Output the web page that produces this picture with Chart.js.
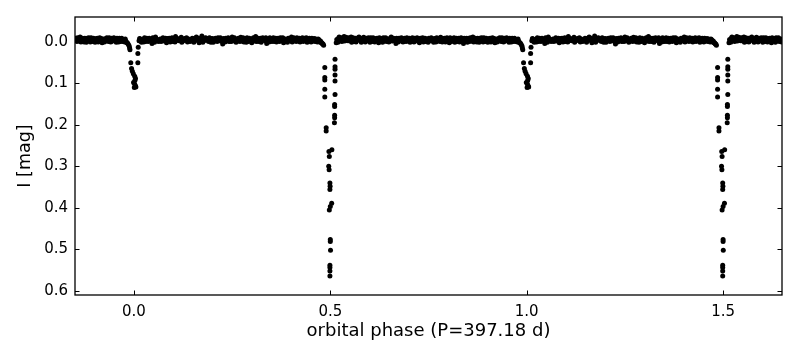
<!DOCTYPE html>
<html>
<head>
<meta charset="utf-8">
<script src="https://cdn.jsdelivr.net/npm/chart.js@4/dist/chart.umd.min.js"></script>
<style>
  html, body { margin: 0; padding: 0; background: #fff; }
  #wrap { width: 800px; height: 360px; }
</style>
</head>
<body>
<div id="wrap"><canvas id="lightCurve"></canvas></div>
<script>
// phase-folded I-band light curve, [phase, mag], phase in [0, 1)
const baselineFirstHalf = [
  [0.013,-0.003],[0.016,-0.007],[0.019,0.001],[0.023,-0.006],[0.027,-0.010],[0.030,-0.001],[0.034,-0.004],[0.039,-0.009],[0.043,-0.003],[0.046,0.004],
  [0.050,-0.006],[0.055,-0.012],[0.058,-0.004],[0.062,-0.001],[0.067,-0.007],[0.071,-0.003],[0.074,-0.010],[0.078,-0.006],[0.083,0.002],[0.087,-0.004],
  [0.090,-0.009],[0.095,-0.006],[0.099,-0.001],[0.102,-0.007],[0.106,-0.013],[0.111,-0.004],[0.115,-0.003],[0.118,-0.009],[0.122,0.001],[0.127,-0.006],
  [0.131,-0.004],[0.134,-0.010],[0.139,-0.007],[0.143,-0.001],[0.146,-0.006],[0.150,-0.003],[0.155,-0.009],[0.159,-0.012],[0.162,-0.004],[0.166,0.002],
  [0.171,-0.006],[0.173,-0.014],[0.178,-0.003],[0.182,-0.010],[0.186,-0.004],[0.190,-0.001],[0.194,-0.009],[0.198,-0.006],[0.202,0.001],[0.206,-0.007],
  [0.210,-0.004],[0.214,-0.010],[0.218,-0.003],[0.222,-0.006],[0.226,0.005],[0.230,-0.004],[0.234,-0.009],[0.238,-0.006],[0.242,-0.001],[0.246,-0.007],
  [0.250,-0.012],[0.254,-0.003],[0.258,-0.006],[0.262,-0.004],[0.266,-0.009],[0.270,-0.001],[0.274,-0.007],[0.278,-0.010],[0.282,-0.004],[0.286,0.001],
  [0.290,-0.006],[0.294,-0.009],[0.298,-0.003],[0.302,-0.007],[0.306,-0.004],[0.310,-0.013],[0.314,-0.006],[0.318,-0.001],[0.322,-0.009],[0.326,-0.004],
  [0.330,-0.007],[0.334,-0.003],[0.338,0.004],[0.342,-0.006],[0.346,-0.010],[0.349,-0.004],[0.353,-0.007],[0.357,-0.001],[0.361,-0.009],[0.365,-0.006],
  [0.369,-0.003],[0.373,-0.010],[0.377,-0.004],[0.381,0.002],[0.385,-0.007],[0.389,-0.006],[0.393,-0.009],[0.397,-0.003],[0.401,-0.012],[0.405,-0.004],
  [0.409,-0.007],[0.413,-0.001],[0.417,-0.006],[0.421,-0.009],[0.425,-0.003],[0.429,-0.010],[0.433,-0.004],[0.437,-0.006],[0.441,0.001],[0.445,-0.007],
  [0.449,-0.004],[0.453,-0.009],[0.457,-0.006],[0.461,-0.001],[0.465,-0.004],[0.469,-0.007],[0.473,0.000],[0.477,0.002],[0.480,0.005],[0.483,0.008]
];

// second observing season, same phases interleaved
const baselineFirstHalfB = [
  [0.0145,-0.008],[0.0215,-0.004],[0.025,0.000],[0.0325,-0.009],[0.0365,-0.001],[0.041,-0.006],[0.048,-0.010],[0.0525,0.001],[0.0565,-0.008],[0.0645,-0.005],
  [0.069,-0.001],[0.0765,-0.002],[0.0805,-0.009],[0.085,-0.008],[0.0925,0.000],[0.097,-0.010],[0.1005,-0.005],[0.1045,0.000],[0.109,-0.009],[0.113,-0.006],
  [0.1205,-0.011],[0.1245,-0.002],[0.129,-0.008],[0.1365,0.000],[0.141,-0.003],[0.1485,-0.009],[0.1525,0.001],[0.157,-0.004],[0.1645,-0.009],[0.1685,-0.002],
  [0.1755,0.001],[0.180,-0.007],[0.184,-0.009],[0.188,-0.005],[0.192,-0.010],[0.196,0.001],[0.200,-0.008],[0.204,-0.002],[0.208,-0.009],[0.212,-0.001],
  [0.216,-0.005],[0.220,-0.010],[0.224,-0.001],[0.228,-0.008],[0.232,0.000],[0.236,-0.005],[0.240,-0.010],[0.244,-0.002],[0.248,-0.001],[0.252,-0.008],
  [0.256,-0.010],[0.260,0.001],[0.264,-0.002],[0.268,-0.007],[0.272,-0.011],[0.276,-0.002],[0.280,0.000],[0.284,-0.008],[0.288,-0.010],[0.292,-0.001],
  [0.296,-0.006],[0.300,0.002],[0.304,-0.010],[0.308,-0.002],[0.312,-0.001],[0.316,-0.009],[0.320,-0.005],[0.324,0.001],[0.328,-0.010],[0.332,-0.008],
  [0.336,-0.010],[0.340,-0.001],[0.344,0.000],[0.3475,-0.008],[0.351,-0.001],[0.355,-0.010],[0.359,-0.004],[0.363,0.000],[0.367,-0.009],[0.371,-0.001],
  [0.375,-0.008],[0.379,-0.010],[0.383,-0.004],[0.387,-0.001],[0.391,0.001],[0.395,-0.005],[0.399,-0.008],[0.403,0.000],[0.407,-0.010],[0.411,-0.006],
  [0.415,-0.010],[0.419,-0.002],[0.423,0.000],[0.427,-0.008],[0.431,-0.001],[0.435,-0.009],[0.439,-0.010],[0.443,-0.003],[0.447,-0.009],[0.451,0.000],
  [0.455,-0.002],[0.459,-0.008],[0.463,-0.007],[0.467,0.000],[0.471,-0.005],[0.475,-0.002],[0.4785,0.002],[0.4815,0.005]
];

const baselineSecondHalf = [
  [0.515,0.002],[0.518,-0.004],[0.521,-0.009],[0.524,-0.003],[0.528,-0.010],[0.531,-0.006],[0.535,-0.013],[0.538,-0.004],[0.542,-0.009],[0.545,-0.003],
  [0.549,-0.007],[0.553,-0.012],[0.556,-0.006],[0.560,-0.001],[0.564,-0.009],[0.567,-0.004],[0.571,-0.010],[0.575,-0.006],[0.579,0.001],[0.583,-0.007],
  [0.587,-0.004],[0.591,-0.009],[0.595,-0.003],[0.599,-0.006],[0.603,-0.010],[0.607,-0.001],[0.611,-0.007],[0.615,-0.004],[0.619,-0.009],[0.623,0.002],
  [0.627,-0.006],[0.631,-0.003],[0.635,-0.010],[0.639,-0.006],[0.643,-0.001],[0.647,-0.007],[0.651,-0.004],[0.655,-0.012],[0.659,-0.003],[0.663,-0.006],
  [0.667,0.004],[0.671,-0.004],[0.675,-0.009],[0.679,-0.003],[0.683,-0.007],[0.687,-0.001],[0.691,-0.006],[0.695,-0.010],[0.699,-0.004],[0.703,0.001],
  [0.707,-0.007],[0.711,-0.004],[0.715,-0.009],[0.719,-0.003],[0.723,-0.006],[0.727,0.002],[0.731,-0.007],[0.735,-0.010],[0.739,-0.004],[0.743,-0.001],
  [0.747,-0.006],[0.751,-0.009],[0.755,-0.003],[0.759,-0.007],[0.763,0.001],[0.767,-0.004],[0.771,-0.010],[0.775,-0.006],[0.779,-0.001],[0.783,-0.007],
  [0.787,-0.004],[0.791,-0.009],[0.795,-0.003],[0.799,-0.006],[0.803,0.002],[0.807,-0.007],[0.811,-0.004],[0.815,-0.010],[0.819,-0.001],[0.823,-0.006],
  [0.827,-0.009],[0.831,-0.003],[0.835,-0.007],[0.839,0.004],[0.843,-0.004],[0.847,-0.009],[0.851,-0.006],[0.855,-0.001],[0.859,-0.007],[0.863,-0.012],
  [0.867,-0.003],[0.871,-0.006],[0.875,-0.009],[0.879,0.001],[0.883,-0.006],[0.887,-0.004],[0.891,-0.010],[0.895,-0.001],[0.899,-0.007],[0.903,-0.004],
  [0.907,-0.009],[0.911,-0.003],[0.915,-0.006],[0.919,0.002],[0.923,-0.007],[0.927,-0.004],[0.931,-0.010],[0.935,-0.001],[0.939,-0.006],[0.943,-0.009],
  [0.947,-0.003],[0.951,-0.007],[0.955,0.001],[0.959,-0.004],[0.963,-0.009],[0.967,-0.006],[0.971,-0.001],[0.975,-0.004],[0.978,-0.007],[0.981,0.001],
  [0.984,0.003],[0.986,0.006],[0.988,0.010],[0.989,0.015],[0.990,0.019]
];

const baselineSecondHalfB = [
  [0.5165,-0.006],[0.5195,0.001],[0.5225,-0.012],[0.526,-0.004],[0.5295,-0.001],[0.533,-0.009],[0.5365,-0.002],[0.540,-0.011],[0.5435,-0.004],[0.547,-0.010],
  [0.551,-0.002],[0.5545,0.001],[0.558,-0.010],[0.562,-0.006],[0.5655,0.000],[0.569,-0.008],[0.573,-0.012],[0.577,-0.002],[0.581,-0.009],[0.585,-0.011],
  [0.589,0.000],[0.593,-0.005],[0.597,-0.010],[0.601,0.001],[0.605,-0.006],[0.609,-0.010],[0.613,0.000],[0.617,-0.008],[0.621,-0.002],[0.625,-0.010],
  [0.629,-0.008],[0.633,0.001],[0.637,-0.002],[0.641,-0.010],[0.645,-0.004],[0.649,0.000],[0.653,-0.009],[0.657,-0.002],[0.661,-0.009],[0.665,-0.007],
  [0.669,-0.009],[0.673,0.000],[0.677,-0.006],[0.681,-0.010],[0.685,0.000],[0.689,-0.009],[0.693,-0.001],[0.697,-0.003],[0.701,-0.009],[0.705,-0.002],
  [0.709,-0.010],[0.713,0.000],[0.717,-0.005],[0.721,-0.010],[0.725,-0.001],[0.729,-0.009],[0.733,-0.002],[0.737,0.000],[0.741,-0.009],[0.745,-0.007],
  [0.749,0.001],[0.753,-0.004],[0.757,-0.010],[0.761,-0.002],[0.765,-0.008],[0.769,0.000],[0.773,-0.003],[0.777,-0.009],[0.781,-0.011],[0.785,0.000],
  [0.789,-0.008],[0.793,0.000],[0.797,-0.010],[0.801,-0.006],[0.805,-0.010],[0.809,-0.001],[0.813,-0.004],[0.817,0.001],[0.821,-0.009],[0.825,-0.001],
  [0.829,0.000],[0.833,-0.010],[0.837,-0.005],[0.841,-0.009],[0.845,-0.001],[0.849,0.001],[0.853,-0.009],[0.857,-0.010],[0.861,-0.002],[0.865,0.000],
  [0.869,-0.009],[0.873,0.000],[0.877,-0.002],[0.881,-0.009],[0.885,-0.010],[0.889,0.000],[0.893,-0.004],[0.897,-0.009],[0.901,0.001],[0.905,-0.008],
  [0.909,0.000],[0.913,-0.010],[0.917,-0.008],[0.921,-0.001],[0.925,0.000],[0.929,-0.008],[0.933,-0.004],[0.937,-0.010],[0.941,0.000],[0.945,-0.002],
  [0.949,-0.010],[0.953,-0.004],[0.957,-0.009],[0.961,0.000],[0.965,-0.001],[0.969,-0.009],[0.973,-0.006],[0.9765,0.000],[0.9795,-0.002],[0.9825,0.002]
];

const primaryEclipse = [
  [0.992,0.050],[0.994,0.064],[0.996,0.071],[0.9985,0.077],[0.002,0.083],[0.004,0.088],[0.0025,0.093],
  [0.999,0.098],[0.002,0.102],[0.004,0.106],[0.001,0.110],[0.005,0.109],[0.010,0.050],[0.010,0.028],[0.011,0.013]
];

const secondaryEclipse = [
  [0.486,0.062],[0.486,0.086],[0.486,0.092],[0.486,0.114],[0.486,0.133],
  [0.512,0.042],[0.512,0.060],[0.512,0.066],[0.512,0.080],[0.512,0.094],[0.512,0.127],
  [0.511,0.151],[0.511,0.156],[0.511,0.177],[0.511,0.183],[0.5105,0.195],
  [0.4895,0.207],[0.4895,0.215],
  [0.504,0.260],[0.4965,0.264],[0.4975,0.276],[0.496,0.300],[0.497,0.308],
  [0.499,0.340],[0.4995,0.348],[0.499,0.356],
  [0.5035,0.389],[0.500,0.397],[0.4975,0.405],
  [0.500,0.476],[0.500,0.481],[0.5005,0.502],
  [0.499,0.538],[0.499,0.544],[0.499,0.552],[0.499,0.564]
];

const phaseTicks = [0.0, 0.5, 1.0, 1.5];
const magTicks = [0.0, 0.1, 0.2, 0.3, 0.4, 0.5, 0.6];
const phaseRange = [-0.15, 1.65];
const magRange = [-0.06, 0.61];

const FONT = "'DejaVu Sans', sans-serif";

// the folded curve is plotted twice (phase and phase+1), as in the original
function foldedPoints() {
  const all = [
    ...baselineFirstHalf, ...baselineFirstHalfB,
    ...baselineSecondHalf, ...baselineSecondHalfB,
    ...primaryEclipse, ...secondaryEclipse
  ];
  const pts = [];
  [-1, 0, 1].forEach(shift => {
    all.forEach(([p, m]) => {
      const x = p + shift;
      if (x >= phaseRange[0] && x <= phaseRange[1]) pts.push({ x, y: m });
    });
  });
  return pts;
}

const frameTicks = {
  id: 'frameTicks',
  afterDatasetsDraw(chart) {
    const { ctx, chartArea: a, scales } = chart;
    const len = 4.5;
    ctx.save();
    ctx.strokeStyle = '#000';
    ctx.lineWidth = 1;
    ctx.beginPath();
    phaseTicks.forEach(v => {
      const x = Math.round(scales.x.getPixelForValue(v)) + 0.5;
      ctx.moveTo(x, a.top); ctx.lineTo(x, a.top + len);
      ctx.moveTo(x, a.bottom); ctx.lineTo(x, a.bottom - len);
    });
    magTicks.forEach(v => {
      const y = Math.round(scales.y.getPixelForValue(v)) + 0.5;
      ctx.moveTo(a.left, y); ctx.lineTo(a.left + len, y);
      ctx.moveTo(a.right, y); ctx.lineTo(a.right - len, y);
    });
    ctx.stroke();
    ctx.lineWidth = 1.3;
    ctx.strokeRect(a.left, a.top, a.right - a.left, a.bottom - a.top);
    ctx.restore();
  }
};

new Chart(document.getElementById('lightCurve'), {
  type: 'scatter',
  data: {
    datasets: [{
      data: foldedPoints(),
      backgroundColor: '#000',
      borderWidth: 0,
      pointRadius: 2.5,
      pointHoverRadius: 2.5,
      clip: 0
    }]
  },
  options: {
    responsive: true,
    maintainAspectRatio: false,
    animation: false,
    events: [],
    layout: { padding: { top: 17, right: 18, left: 0, bottom: 0 } },
    plugins: {
      legend: { display: false },
      tooltip: { enabled: false }
    },
    scales: {
      x: {
        type: 'linear',
        min: phaseRange[0],
        max: phaseRange[1],
        afterFit: s => { s.height = 65; },
        afterBuildTicks: s => { s.ticks = phaseTicks.map(v => ({ value: v })); },
        grid: { display: false, drawTicks: false },
        border: { display: false },
        ticks: {
          color: '#000',
          padding: 8,
          maxRotation: 0,
          font: { family: FONT, size: 15 },
          callback: v => v.toFixed(1)
        },
        title: {
          display: true,
          text: 'orbital phase (P=397.18 d)',
          color: '#000',
          font: { family: FONT, size: 18 },
          padding: { top: 0, bottom: 18 }
        }
      },
      y: {
        type: 'linear',
        reverse: true,
        min: magRange[0],
        max: magRange[1],
        afterFit: s => { s.width = 75; },
        afterBuildTicks: s => { s.ticks = magTicks.map(v => ({ value: v })); },
        grid: { display: false, drawTicks: false },
        border: { display: false },
        ticks: {
          color: '#000',
          padding: 7,
          font: { family: FONT, size: 15 },
          callback: v => v.toFixed(1)
        },
        title: {
          display: true,
          text: 'I [mag]',
          color: '#000',
          font: { family: FONT, size: 17.5 },
          padding: { top: 15, bottom: 0 }
        }
      }
    }
  },
  plugins: [frameTicks]
});
</script>
</body>
</html>
